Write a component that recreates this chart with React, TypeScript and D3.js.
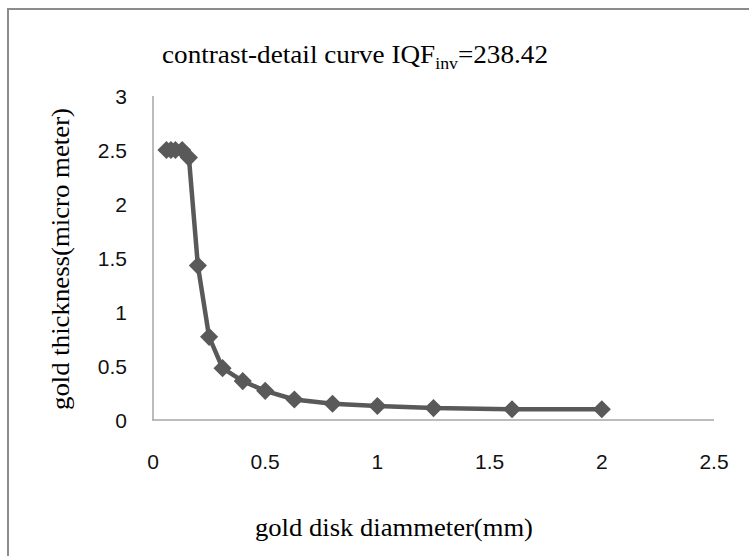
import * as d3 from "d3";
import { useEffect, useRef } from "react";

// disk diameters (mm) and threshold gold thickness (micro meter)
const diameters = [0.06, 0.08, 0.1, 0.13, 0.16, 0.2, 0.25, 0.31, 0.4, 0.5, 0.63, 0.8, 1.0, 1.25, 1.6, 2.0];
const thickness = [2.5, 2.5, 2.5, 2.5, 2.43, 1.43, 0.77, 0.48, 0.36, 0.27, 0.19, 0.15, 0.13, 0.11, 0.1, 0.1];
const xTicks = [0, 0.5, 1, 1.5, 2, 2.5];
const yTicks = [0, 0.5, 1, 1.5, 2, 2.5, 3];

const W = 749;
const H = 556;

export default function App() {
  const ref = useRef<SVGSVGElement>(null);

  useEffect(() => {
    const svg = d3.select(ref.current);
    svg.selectAll("*").remove();

    const x = d3.scaleLinear().domain([0, 2.5]).range([153, 714]);
    const y = d3.scaleLinear().domain([0, 3]).range([420, 96]);
    const serif = "Liberation Serif, Times New Roman, serif";
    const sans = "Liberation Sans, Arial, sans-serif";

    svg.append("rect").attr("width", W).attr("height", H).attr("fill", "white");
    // outer frame
    svg.append("rect")
      .attr("x", 8).attr("y", 9).attr("width", W + 10).attr("height", H + 10)
      .attr("fill", "none").attr("stroke", "#8c8c8c").attr("stroke-width", 2);

    // axis lines
    svg.append("line").attr("x1", x(0)).attr("x2", x(0)).attr("y1", y(3)).attr("y2", y(0))
      .attr("stroke", "#a6a6a6").attr("stroke-width", 1.5);
    svg.append("line").attr("x1", x(0) - 1).attr("x2", x(2.5)).attr("y1", y(0)).attr("y2", y(0))
      .attr("stroke", "#a6a6a6").attr("stroke-width", 1.5);

    // tick labels
    svg.selectAll(".xt").data(xTicks).enter().append("text")
      .attr("x", d => x(d)).attr("y", 469)
      .attr("text-anchor", "middle")
      .attr("font-family", sans).attr("font-size", 21)
      .attr("fill", "#111")
      .text(d => String(d));
    svg.selectAll(".yt").data(yTicks).enter().append("text")
      .attr("x", 127).attr("y", d => y(d) + 8)
      .attr("text-anchor", "end")
      .attr("font-family", sans).attr("font-size", 21)
      .attr("fill", "#111")
      .text(d => String(d));

    const pts = diameters.map((d, i) => ({ x: d, y: thickness[i] }));
    const line = d3.line<{ x: number; y: number }>().x(d => x(d.x)).y(d => y(d.y));
    svg.append("path").datum(pts).attr("d", line)
      .attr("fill", "none").attr("stroke", "#595959").attr("stroke-width", 4.5)
      .attr("stroke-linejoin", "round");

    const sym = d3.symbol().type(d3.symbolDiamond2).size(210);
    svg.selectAll(".pt").data(pts).enter().append("path")
      .attr("d", sym)
      .attr("transform", d => `translate(${x(d.x)},${y(d.y)})`)
      .attr("fill", "#595959");

    // title
    const t = svg.append("text")
      .attr("x", 355).attr("y", 63).attr("text-anchor", "middle")
      .attr("font-family", serif).attr("font-size", 26)
      .attr("textLength", 386).attr("lengthAdjust", "spacingAndGlyphs");
    t.append("tspan").text("contrast-detail curve  IQF");
    t.append("tspan").attr("font-size", 17).attr("dy", 6).text("inv");
    t.append("tspan").attr("dy", -6).text("=238.42");

    // axis titles
    svg.append("text")
      .attr("x", 394).attr("y", 536).attr("text-anchor", "middle")
      .attr("font-family", serif).attr("font-size", 26)
      .attr("textLength", 278).attr("lengthAdjust", "spacingAndGlyphs")
      .text("gold disk diammeter(mm)");
    svg.append("text")
      .attr("transform", `translate(69,259) rotate(-90)`)
      .attr("text-anchor", "middle")
      .attr("font-family", serif).attr("font-size", 26)
      .attr("textLength", 302).attr("lengthAdjust", "spacingAndGlyphs")
      .text("gold thickness(micro meter)");
  }, []);

  return (
    <svg ref={ref} width={W} height={H}
      style={{ position: "absolute", left: 0, top: 0, display: "block" }} />
  );
}
